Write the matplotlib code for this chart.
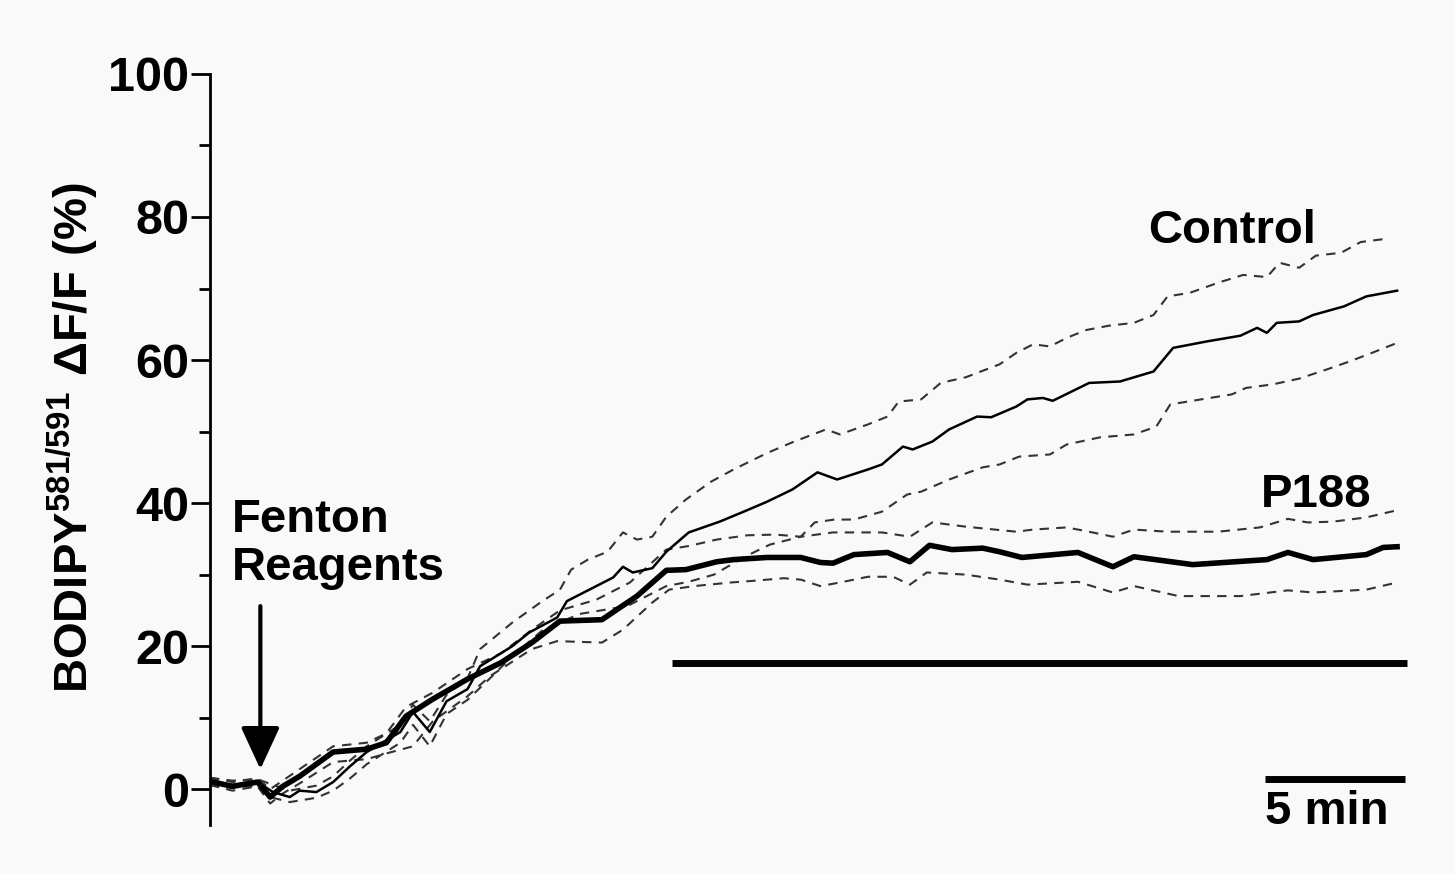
import matplotlib
matplotlib.use("Agg")
import matplotlib.pyplot as plt
from matplotlib.ticker import FixedLocator

plt.rcParams['font.family'] = ['Liberation Sans', 'DejaVu Sans']
plt.rcParams['mathtext.fontset'] = 'custom'
plt.rcParams['mathtext.rm'] = 'Liberation Sans'
plt.rcParams['mathtext.bf'] = 'Liberation Sans:bold'

# time in minutes, dF/F in %
ctrl_t = [0.0, 0.8, 1.7, 2.25, 2.85, 3.2, 3.8, 4.4, 5.0, 5.6, 6.8, 7.25, 7.85, 8.45, 9.2,
          9.65, 10.8, 11.4, 12.4, 12.75, 14.4, 14.75, 15.1, 15.8, 16.3, 17.1, 18.2, 19.0,
          19.9, 20.8, 21.7, 22.4, 23.5, 24.0, 24.75, 25.1, 25.8, 26.4, 27.4, 27.9, 28.8,
          29.2, 29.75, 30.1, 31.4, 32.5, 33.7, 34.4, 35.6, 36.8, 37.4, 37.75, 38.1, 38.9,
          39.4, 40.5, 41.3, 42.4]
ctrl_mean = [1.0, 0.6, 1.0, -0.4, -1.1, -0.2, -0.4, 1.0, 3.2, 5.2, 8.0, 10.8, 8.0, 12.3, 14.0,
             17.2, 20.0, 21.9, 24.0, 26.3, 29.6, 31.1, 30.3, 30.9, 33.2, 35.9, 37.4, 38.7,
             40.2, 41.9, 44.3, 43.3, 44.7, 45.4, 47.9, 47.5, 48.6, 50.3, 52.1, 52.0, 53.5,
             54.5, 54.7, 54.3, 56.8, 57.0, 58.4, 61.7, 62.6, 63.4, 64.5, 63.8, 65.2, 65.4,
             66.3, 67.5, 68.9, 69.7]

ctrl_up_t = [0.0, 0.8, 1.7, 2.25, 2.85, 3.8, 4.4, 5.0, 5.6, 6.8, 7.25, 7.85, 8.45, 9.2, 9.65,
             10.8, 11.8, 12.5, 12.9, 13.5, 14.2, 14.75, 15.25, 15.8, 16.3, 17.0, 17.9, 18.7,
             19.9, 20.8, 22.0, 22.5, 23.5, 24.2, 24.6, 25.4, 26.1, 27.0, 28.2, 28.8, 29.4,
             30.0, 30.6, 31.3, 32.1, 33.0, 33.7, 34.2, 35.0, 36.0, 36.9, 37.75, 38.2, 38.9,
             39.5, 40.4, 41.1, 42.1]
ctrl_up = [1.6, 1.2, 1.4, 0.6, -0.2, 0.5, 1.8, 4.0, 6.0, 9.0, 11.8, 9.5, 13.2, 15.5, 19.6,
           23.3, 26.1, 27.9, 30.7, 32.1, 33.2, 35.9, 34.9, 35.3, 38.1, 40.5, 43.0, 44.7,
           47.0, 48.5, 50.3, 49.6, 51.0, 52.1, 54.2, 54.5, 56.8, 57.6, 59.4, 61.0, 62.2,
           61.9, 63.1, 64.2, 64.8, 65.2, 66.3, 68.9, 69.4, 70.8, 71.9, 71.6, 73.6, 72.9,
           74.6, 75.0, 76.5, 77.0]

ctrl_lo_t = [0.0, 0.8, 1.7, 2.25, 2.85, 3.8, 4.4, 5.0, 5.6, 6.8, 7.25, 7.85, 8.45, 9.2, 10.0,
             10.8, 11.9, 13.2, 14.9, 15.6, 16.3, 17.1, 18.0, 19.1, 20.0, 21.1, 21.6, 22.3,
             23.0, 24.0, 24.9, 25.4, 26.4, 27.6, 28.2, 28.9, 30.0, 30.6, 31.8, 33.0, 33.8,
             34.3, 35.4, 36.5, 37.0, 37.96, 38.9, 39.9, 40.7, 41.5, 42.4]
ctrl_lo = [0.5, 0.2, 0.5, -1.2, -1.8, -1.2, -0.2, 1.5, 3.5, 6.5, 9.0, 6.0, 10.5, 12.5, 15.5,
           18.6, 22.3, 24.5, 25.6, 27.0, 28.4, 29.0, 30.0, 32.5, 34.2, 35.3, 37.3, 37.7,
           37.7, 38.8, 41.2, 41.6, 43.3, 45.0, 45.4, 46.5, 46.8, 48.2, 49.2, 49.6, 50.7,
           53.8, 54.5, 55.2, 56.1, 56.6, 57.4, 58.7, 59.8, 61.0, 62.4]

p188_t = [0.0, 0.8, 1.7, 2.15, 2.6, 3.2, 4.4, 5.6, 6.3, 7.0, 7.96, 9.2, 10.4, 11.5, 12.5,
          14.0, 15.25, 16.3, 17.0, 18.1, 18.7, 19.9, 21.1, 21.8, 22.25, 23.0, 24.2, 25.0,
          25.7, 26.5, 27.6, 28.2, 29.0, 31.0, 32.25, 33.0, 35.1, 37.75, 38.5, 39.4, 41.3,
          41.9, 42.4]
p188_mean = [1.1, 0.4, 1.0, -1.1, 0.4, 1.8, 5.2, 5.6, 6.5, 10.2, 12.6, 15.4, 17.7, 20.5, 23.5,
             23.7, 27.0, 30.6, 30.7, 31.8, 32.1, 32.4, 32.4, 31.7, 31.6, 32.8, 33.1, 31.8,
             34.1, 33.5, 33.7, 33.2, 32.4, 33.1, 31.1, 32.5, 31.4, 32.1, 33.1, 32.1, 32.8,
             33.8, 33.9]

p188_up_t = [0.0, 0.8, 1.7, 2.15, 2.6, 3.2, 4.4, 5.6, 6.3, 7.0, 7.96, 9.2, 10.4, 11.5, 12.5,
             13.8, 15.0, 16.3, 17.1, 18.1, 19.2, 20.2, 21.1, 22.25, 24.0, 25.0, 25.8, 27.0,
             28.8, 29.4, 30.6, 31.4, 32.25, 33.0, 34.2, 36.0, 37.5, 38.5, 39.2, 40.1, 41.3,
             42.4]
p188_up = [1.6, 1.0, 1.5, 0.0, 1.2, 2.8, 6.0, 6.5, 7.8, 11.5, 13.5, 16.8, 19.0, 22.3, 25.0,
           26.5, 28.9, 33.5, 34.0, 34.9, 35.5, 35.6, 35.3, 35.9, 35.9, 35.3, 37.3, 36.7,
           36.0, 36.3, 36.6, 36.0, 35.3, 36.3, 36.0, 36.0, 36.6, 37.8, 37.3, 37.4, 38.0,
           39.0]

p188_lo_t = [0.0, 0.8, 1.7, 2.15, 2.6, 3.2, 4.4, 5.6, 6.3, 7.25, 7.96, 9.2, 10.0, 11.5, 12.4,
             14.0, 14.75, 15.8, 16.4, 17.3, 18.6, 19.3, 20.5, 21.1, 21.8, 22.5, 23.5, 24.4,
             25.0, 25.6, 27.0, 28.2, 29.2, 31.0, 32.25, 33.0, 34.6, 36.8, 38.5, 39.4, 41.3,
             42.4]
p188_lo = [0.6, -0.2, 0.4, -2.0, -0.6, 0.8, 3.8, 4.2, 5.0, 6.0, 9.5, 13.0, 15.8, 19.6, 20.7,
           20.5, 22.3, 26.1, 27.9, 28.4, 28.9, 29.1, 29.5, 29.3, 28.4, 28.9, 29.7, 29.7,
           28.6, 30.3, 30.0, 29.3, 28.6, 29.0, 27.5, 28.4, 27.0, 27.0, 27.8, 27.5, 27.9,
           28.9]

# P188 application bar and 5 min scale bar
drug_bar_t = [16.5, 42.75]
drug_bar_y = 17.7
scale_t = [37.68, 42.68]
scale_y = 1.4
arrow_t = 1.8

fig = plt.figure(figsize=(14.55, 8.74), dpi=100)
fig.patch.set_facecolor('#f9f9f9')
ax = fig.add_axes([0.1443, 0.0561, 0.8467, 0.8593])
ax.set_facecolor('none')

dash_kw = dict(color='#333333', lw=1.5, dashes=(4.5, 3.5))
ax.plot(ctrl_up_t, ctrl_up, **dash_kw)
ax.plot(ctrl_lo_t, ctrl_lo, **dash_kw)
ax.plot(p188_up_t, p188_up, **dash_kw)
ax.plot(p188_lo_t, p188_lo, **dash_kw)
ax.plot(ctrl_t, ctrl_mean, color='black', lw=1.8)
ax.plot(p188_t, p188_mean, color='black', lw=4)

ax.plot(drug_bar_t, [drug_bar_y, drug_bar_y], color='black', lw=5, solid_capstyle='butt')
ax.plot(scale_t, [scale_y, scale_y], color='black', lw=5, solid_capstyle='butt')

ax.annotate('', xy=(arrow_t, 2.8), xytext=(arrow_t, 25.6),
            arrowprops=dict(arrowstyle='-|>,head_length=1.3,head_width=0.6',
                            mutation_scale=20, lw=3, color='black',
                            shrinkA=0, shrinkB=0))

txt = dict(fontsize=34, fontweight='bold', color='black')
ax.text(36.5, 76.4, 'Control', ha='center', va='baseline', **txt)
ax.text(39.5, 39.4, 'P188', ha='center', va='baseline', **txt)
ax.text(0.79, 36.0, 'Fenton', ha='left', va='baseline', **txt)
ax.text(0.79, 29.3, 'Reagents', ha='left', va='baseline', **txt)
ax.text(39.9, -4.9, '5 min', ha='center', va='baseline', clip_on=False, **txt)

ax.set_xlim(0, 44)
ax.set_ylim(-5, 100)
for s in ['top', 'right', 'bottom']:
    ax.spines[s].set_visible(False)
ax.spines['left'].set_linewidth(2)
ax.set_xticks([])
ax.set_yticks([0, 20, 40, 60, 80, 100])
ax.yaxis.set_minor_locator(FixedLocator([10, 30, 50, 70, 90]))
ax.tick_params(axis='y', which='major', length=14, width=2, pad=1, labelsize=35)
ax.tick_params(axis='y', which='minor', length=8, width=2)
for lab in ax.get_yticklabels():
    lab.set_fontweight('bold')

ax.set_ylabel(r'$\mathbf{BODIPY}^{\mathbf{581/591}}\ \mathbf{\Delta F/F\ (\%)}$', fontsize=34)
ax.yaxis.set_label_coords(-0.089, 0.515)

fig.savefig('out.png', dpi=100, facecolor=fig.get_facecolor())
